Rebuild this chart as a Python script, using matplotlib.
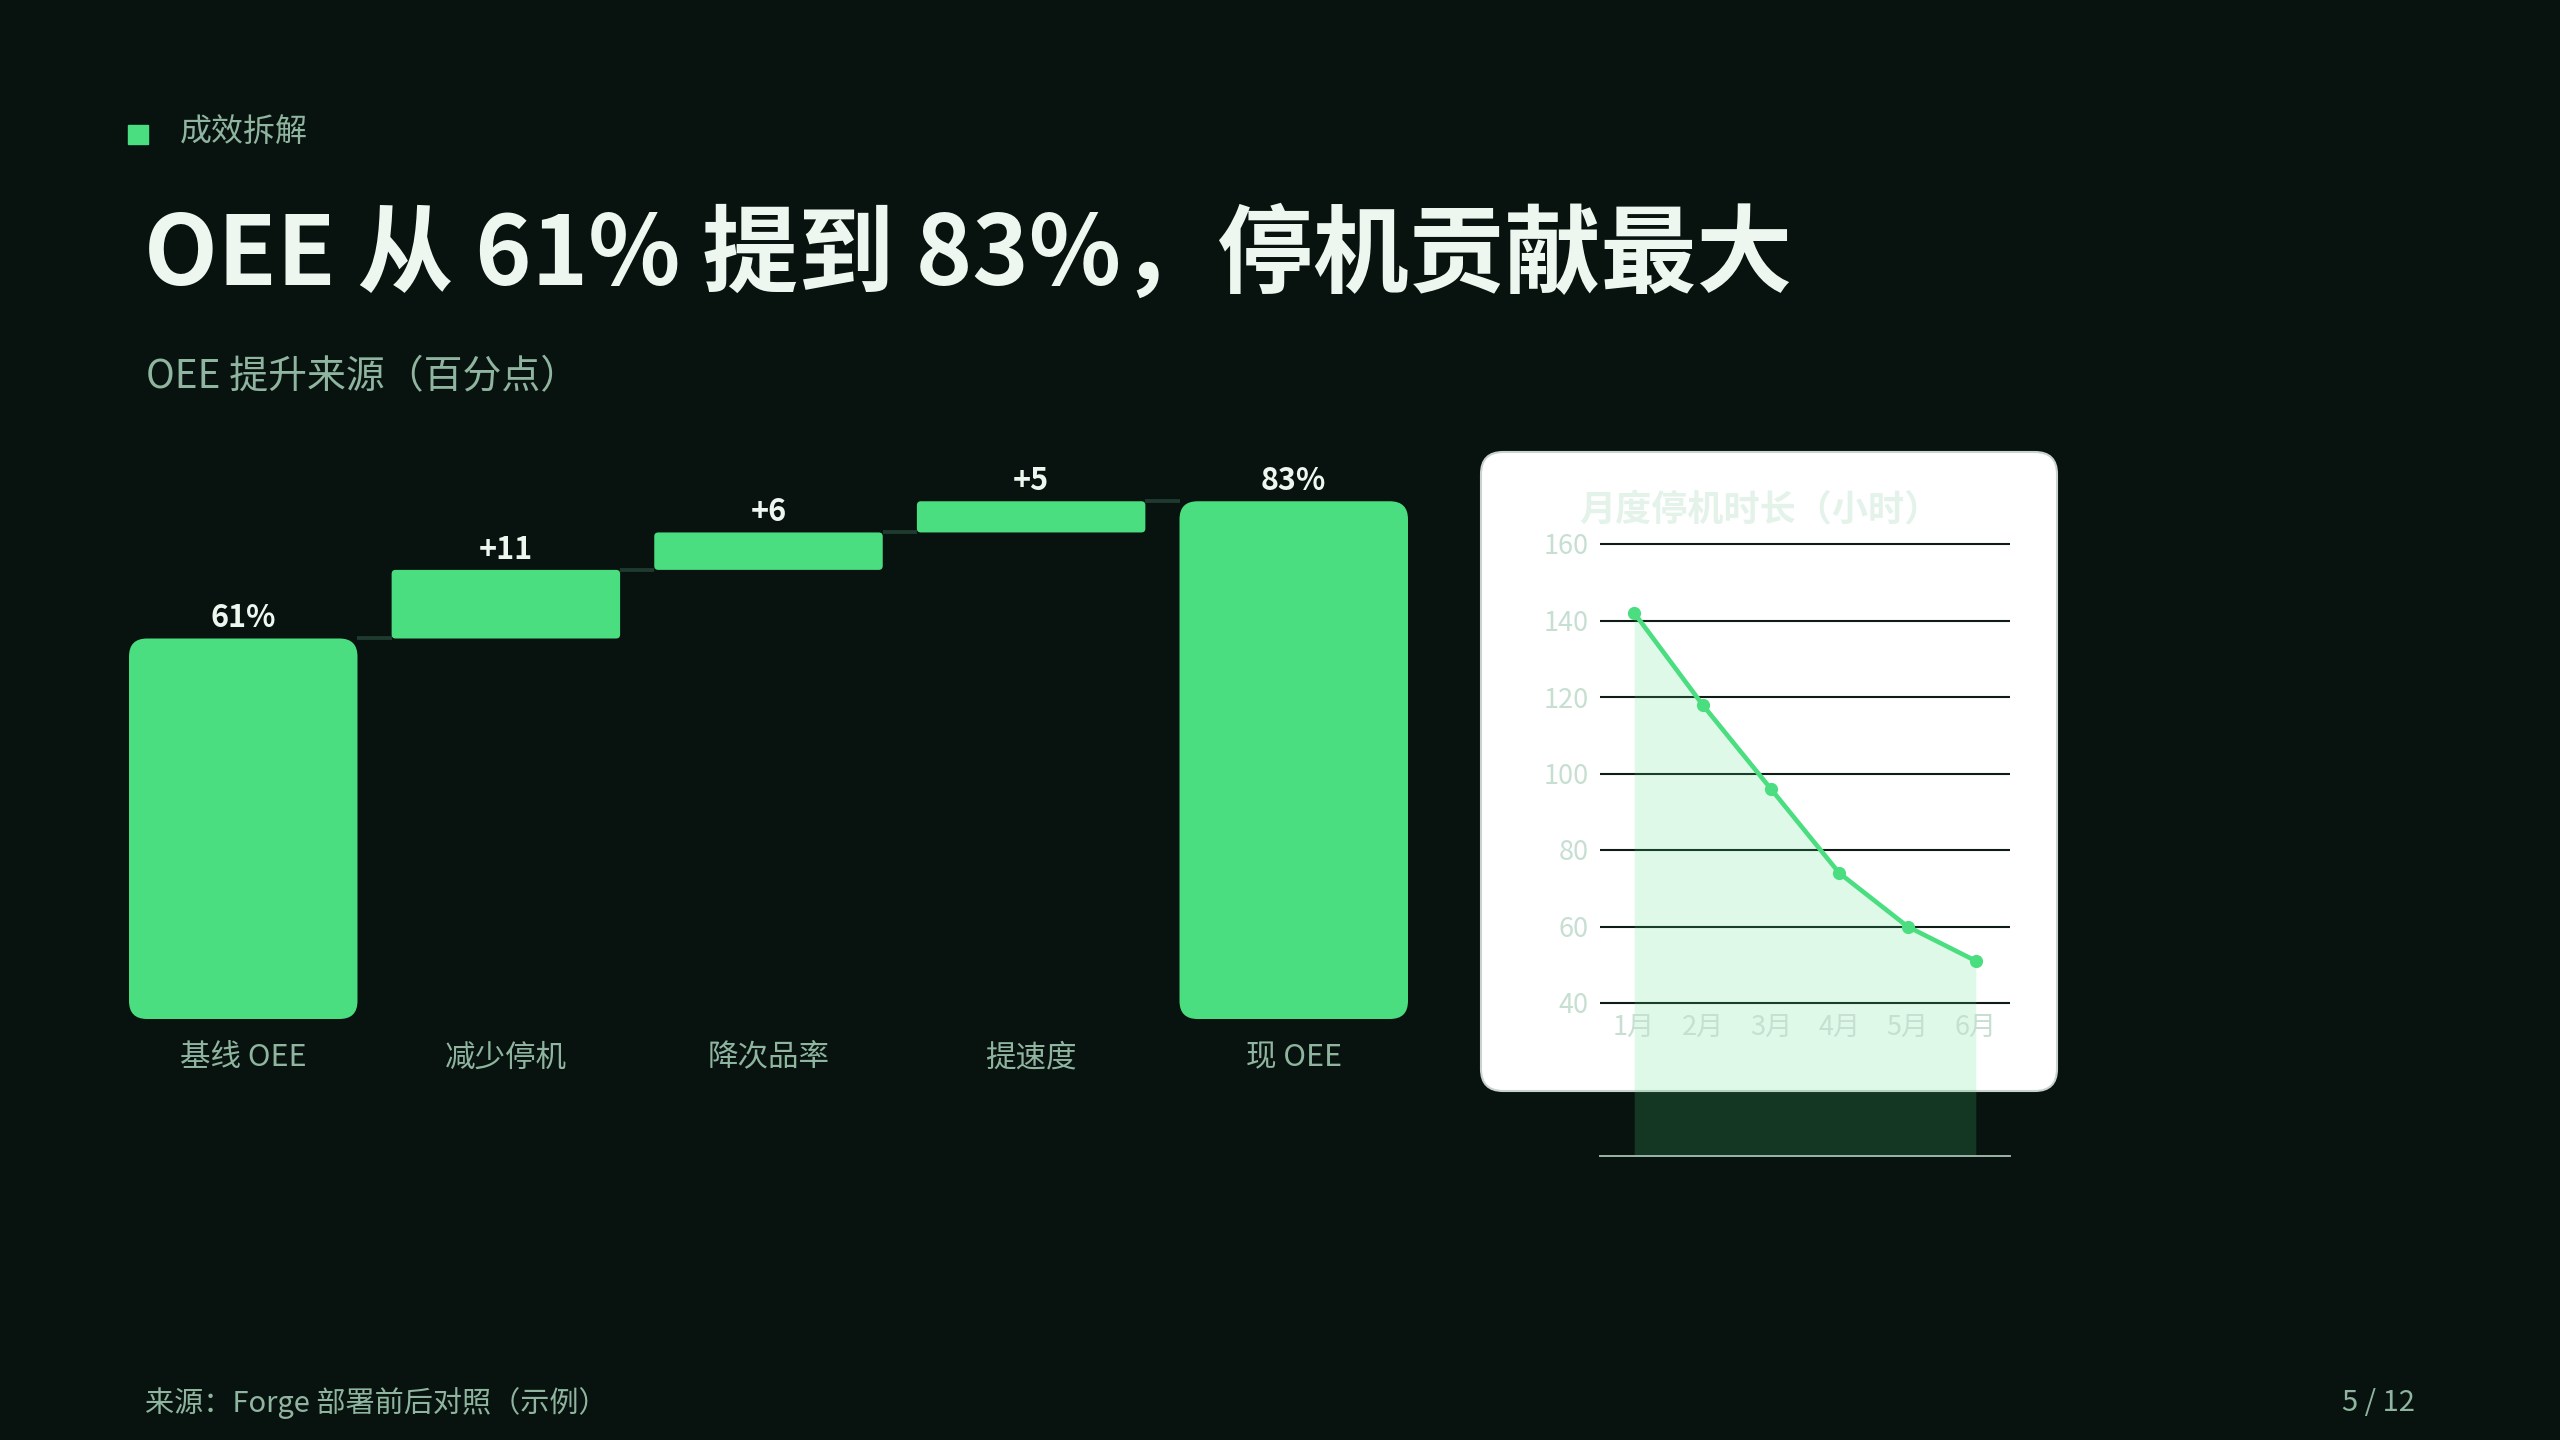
import matplotlib
matplotlib.use("Agg")
import matplotlib.pyplot as plt
from matplotlib.patches import FancyBboxPatch, Rectangle

plt.rcParams['font.family'] = ['Noto Sans CJK SC', 'DejaVu Sans']

# ---- data ----
steps = ['基线 OEE', '减少停机', '降次品率', '提速度', '现 OEE']
step_values = [61, 11, 6, 5, 83]
step_is_total = [True, False, False, False, True]
step_labels = ['61%', '+11', '+6', '+5', '83%']

months = ['1月', '2月', '3月', '4月', '5月', '6月']
downtime = [142, 118, 96, 74, 60, 51]
downtime_ticks = [40, 60, 80, 100, 120, 140, 160]

BG = '#08130f'
GREEN = '#4ade80'
MUTED = '#8fb5a0'
WHITE = '#eef6f0'

fig = plt.figure(figsize=(25.6, 14.4), dpi=100, facecolor=BG)

# ---- header ----
fig.patches.append(Rectangle((128 / 2560, 1 - 144 / 1440), 20 / 2560, 19 / 1440,
                             transform=fig.transFigure, color=GREEN))
fig.text(180 / 2560, 1 - 133 / 1440, '成效拆解', color=MUTED, fontsize=23, va='center')
fig.text(144 / 2560, 1 - 257 / 1440, 'OEE 从 61% 提到 83%，停机贡献最大', color=WHITE,
         fontsize=69, fontweight='bold', va='center')
fig.text(146 / 2560, 1 - 377 / 1440, 'OEE 提升来源（百分点）', color=MUTED, fontsize=28, va='center')

# ---- footer ----
fig.text(145 / 2560, 1 - 1403 / 1440, '来源：Forge 部署前后对照（示例）', color=MUTED, fontsize=21, va='center')
fig.text(2415 / 2560, 1 - 1403 / 1440, '5 / 12', color=MUTED, fontsize=21, va='center', ha='right')

# ---- waterfall ----
ax = fig.add_axes([129 / 2560, 1 - 1019 / 1440, 1279 / 2560, (1019 - 457.6) / 1440])
ax.set_facecolor('none')
width = 0.87
ax.set_xlim(-width / 2, len(steps) - 1 + width / 2)
ax.set_ylim(0, 90)
ax.axis('off')

bottoms = []
tops = []
running = 0
for v, tot in zip(step_values, step_is_total):
    if tot:
        bottoms.append(0)
        tops.append(v)
        running = v
    else:
        bottoms.append(running)
        running += v
        tops.append(running)

# pixel -> data scale for rounded corners
fig.canvas.draw()
p0 = ax.transData.transform((0, 0))
p1 = ax.transData.transform((1, 1))
px_x = p1[0] - p0[0]
px_y = p1[1] - p0[1]
aspect = px_x / px_y

# connectors
for i in range(len(steps) - 1):
    ax.hlines(tops[i], i + width / 2, i + 1 - width / 2, color='#1f3a2e', lw=2.8, zorder=1)

for i, (b, t, tot) in enumerate(zip(bottoms, tops, step_is_total)):
    r_px = 18 if tot else 4
    r = r_px / px_x
    patch = FancyBboxPatch((i - width / 2, b), width, t - b,
                           boxstyle=f'round,pad=0,rounding_size={r}',
                           mutation_aspect=aspect, fc=GREEN, ec='none', zorder=2)
    ax.add_patch(patch)
    ax.annotate(step_labels[i], (i, t), xytext=(0, 20), textcoords='offset pixels',
                ha='center', va='center', color=WHITE, fontsize=22, fontweight='bold')
    ax.annotate(steps[i], (i, 0), xytext=(0, -39), textcoords='offset pixels',
                ha='center', va='center', color=MUTED, fontsize=22, annotation_clip=False)

# ---- inset card ----
card = FancyBboxPatch((14.81, 3.49), 5.76, 6.39, boxstyle='round,pad=0,rounding_size=0.22',
                      transform=fig.dpi_scale_trans, fc='white', ec='#c9d3ce', lw=1.5, zorder=-1)
fig.patches.append(card)
fig.text(1760 / 2560, 1 - 511 / 1440, '月度停机时长（小时）', color='#e4f3ea', fontsize=26,
         fontweight='bold', ha='center', va='center')

ax2 = fig.add_axes([1600 / 2560, 1 - 1003 / 1440, 410 / 2560, 459 / 1440])
ax2.set_facecolor('none')
x = list(range(len(months)))
ax2.set_xlim(-0.5, len(months) - 0.5)
ax2.set_ylim(40, 160)
ax2.set_yticks(downtime_ticks)
ax2.set_xticks(x)
ax2.set_xticklabels(months)
for s in ax2.spines.values():
    s.set_visible(False)
ax2.tick_params(length=0, colors='#c6dfd1', labelsize=19.5, pad=8)
ax2.tick_params(axis='x', pad=8)
ax2.hlines(downtime_ticks, -0.5, len(months) - 0.5, color='#0f1c16', lw=1.5,
           clip_on=False, zorder=0)
ax2.fill_between(x, downtime, 0, color=GREEN, alpha=0.18, lw=0, clip_on=False, zorder=1)
ax2.plot(x, downtime, color=GREEN, lw=3.3, marker='o', markersize=8.5, clip_on=False, zorder=3)
ax2.axhline(0, color='#9db4a8', lw=1.4, clip_on=False)

fig.savefig('out.png', dpi=100, facecolor=BG)
